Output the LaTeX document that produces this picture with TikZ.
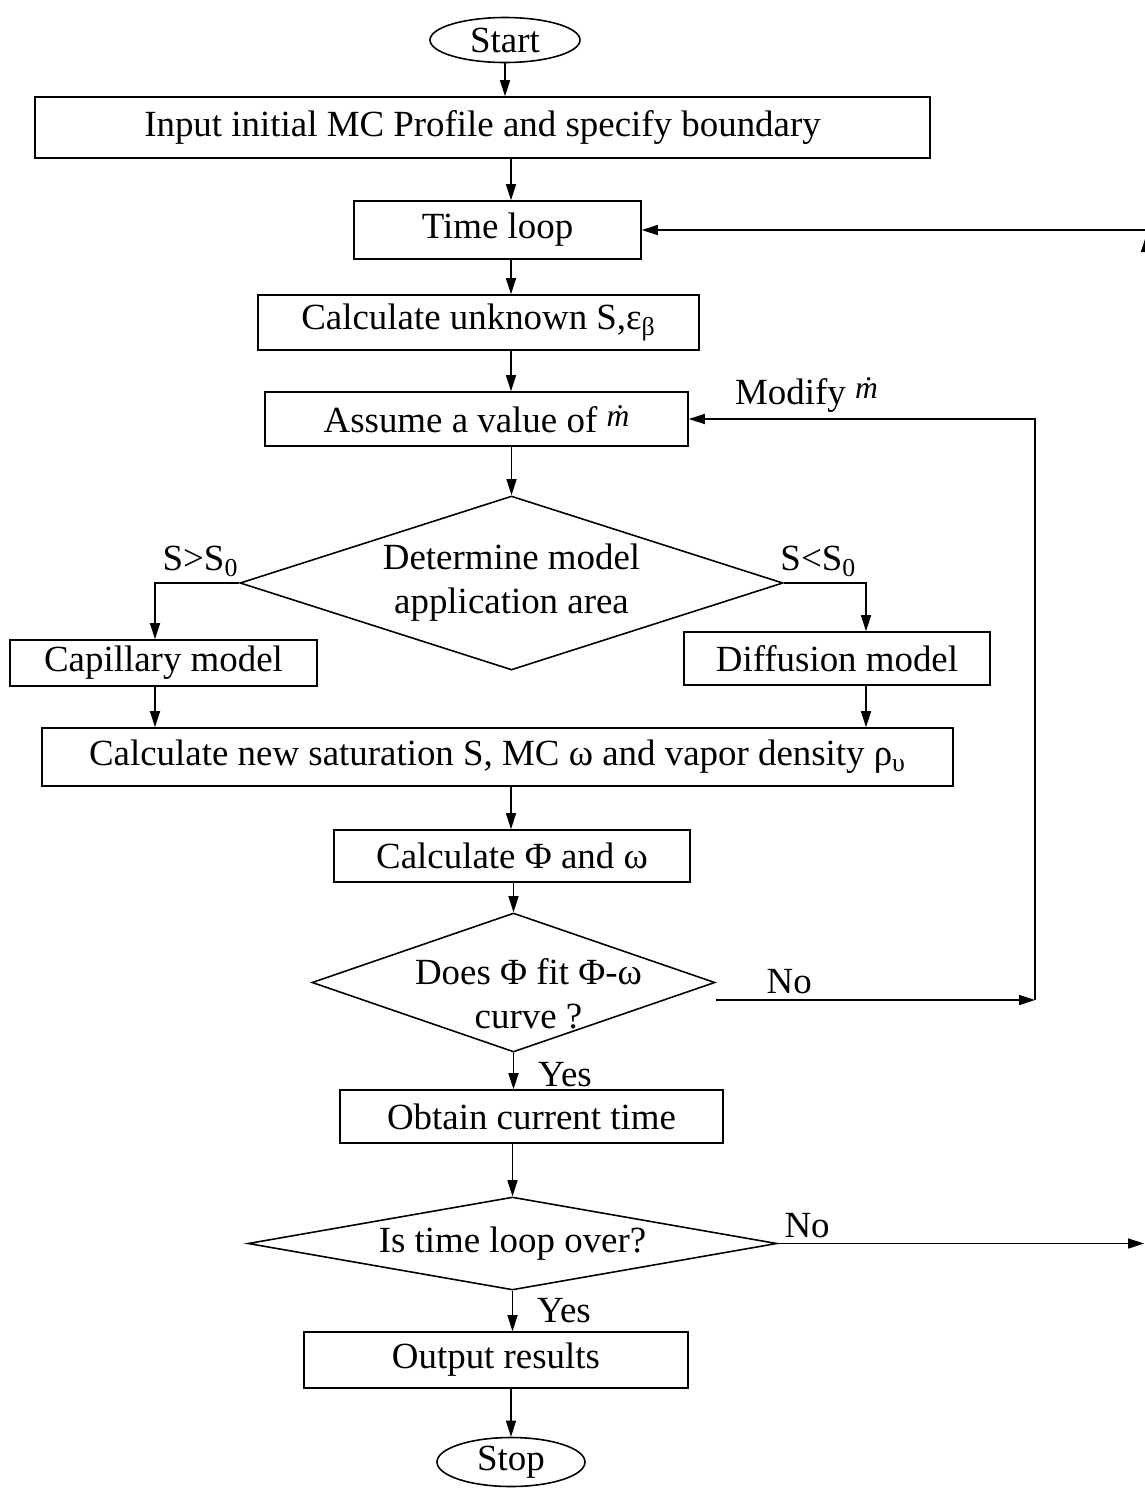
\documentclass[tikz,border=0pt]{standalone}
\usepackage{fontspec}
\setmainfont{Liberation Serif}
\usetikzlibrary{arrows.meta,positioning,shapes.geometric}
\newcommand{\mdot}{\raisebox{1.2mm}{\fontsize{18}{20}\selectfont\itshape ṁ}}

\begin{document}
\begin{tikzpicture}[
  every node/.style={font=\fontsize{21}{25}\selectfont,align=center},
  terminal/.style={draw,ellipse,line width=0.9pt,inner sep=0pt,minimum width=30mm,minimum height=9mm},
  proc/.style={draw,rectangle,line width=0.9pt,inner sep=0pt},
  decision/.style={draw,diamond,line width=0.9pt,inner sep=0pt},
  lbl/.style={inner sep=3pt},
  arr/.style={-{Triangle[length=3.2mm,width=2mm]},line width=0.9pt}
]
\useasboundingbox (0,0) rectangle (22.88,-29.78);
\node[terminal] (start) at (10.1,-0.8) {Start};
\node[proc,minimum width=179mm,minimum height=12.2mm] (input) at (9.65,-2.55) {Input initial MC Profile and specify boundary};
\node[proc,minimum width=57.4mm,minimum height=11.6mm] (loop) at (9.95,-4.6) {Time loop};
\node[proc,minimum width=88.2mm,minimum height=11mm] (unknown) at (9.57,-6.45) {Calculate unknown S,ε\textsubscript{β}};
\node[proc,minimum width=84.6mm,minimum height=10.8mm] (assume) at (9.53,-8.38) {Assume a value of \mdot};
\node[decision,shape aspect=3.1,minimum width=108.6mm,minimum height=34.8mm] (area) at (10.23,-11.66) {Determine model\\application area};
\node[proc,minimum width=61.4mm,minimum height=9.2mm] (capillary) at (3.27,-13.26) {Capillary model};
\node[proc,minimum width=61.2mm,minimum height=10.6mm] (diffusion) at (16.74,-13.17) {Diffusion model};
\node[proc,minimum width=182.2mm,minimum height=11.6mm] (newsat) at (9.95,-15.14) {Calculate new saturation S, MC ω and vapor density ρ\textsubscript{υ}};
\node[proc,minimum width=71.2mm,minimum height=10.4mm] (phi) at (10.24,-17.12) {Calculate Φ and ω};
\node[decision,minimum width=80.6mm,minimum height=27.8mm,
  label={[xshift=3mm,yshift=-2.2mm]center:Does Φ fit Φ-ω\\curve ?}] (fit) at (10.27,-19.65) {};
\node[proc,minimum width=76.6mm,minimum height=10.6mm] (obtain) at (10.63,-22.33) {Obtain current time};
\node[decision,shape aspect=5.7,minimum width=105.8mm,minimum height=18.6mm] (over) at (10.25,-24.87) {Is time loop over?};
\node[proc,minimum width=76.8mm,minimum height=11.2mm] (output) at (9.92,-27.2) {Output results};
\node[terminal,minimum width=29.6mm,minimum height=9.8mm] (stop) at (10.22,-29.24) {Stop};

\coordinate (spine) at (10.22,0);
\coordinate (nocorner) at (20.7,-20.0);
\coordinate (overend) at (22.88,-24.87);
\coordinate (backtop) at (22.92,-4.72);

\draw[arr] (start) -- (start |- input.north);
\draw[arr] (spine |- input.south) -- (spine |- loop.north);
\draw[arr] (spine |- loop.south) -- (spine |- unknown.north);
\draw[arr] (spine |- unknown.south) -- (spine |- assume.north);
\draw[arr] (area.north |- assume.south) -- (area.north);
\draw[arr] (area.west) -| node[pos=0.23,above]{S>S\textsubscript{0}} ([xshift=-1.7mm]capillary.north);
\draw[arr] (area.east) -| node[pos=0.21,above]{S<S\textsubscript{0}} ([xshift=5.8mm]diffusion.north);
\draw[arr] ([xshift=-1.7mm]capillary.south) -- ([xshift=-1.7mm]capillary.south |- newsat.north);
\draw[arr] ([xshift=5.8mm]diffusion.south) -- ([xshift=5.8mm]diffusion.south |- newsat.north);
\draw[arr] (spine |- newsat.south) -- (spine |- phi.north);
\draw[arr] (fit.north |- phi.south) -- (fit.north);
\draw[arr] (fit.east |- nocorner) -- node[pos=0.23,above,lbl]{No} (nocorner);
\draw[arr] (nocorner) |- node[pos=0.83,above,lbl]{Modify \mdot} (assume.east);
\draw[arr] (fit.south) -- node[pos=0.6,right=3.6mm]{Yes} (fit.south |- obtain.north);
\draw[arr] (over.north |- obtain.south) -- (over.north);
\draw[arr] (over.east) -- node[pos=0.08,above,lbl]{No} (overend);
\draw[arr] (overend -| backtop) -- (backtop);
\draw[arr] (backtop |- loop.east) -- (loop.east);
\draw[arr] (over.south) -- node[pos=0.5,right=3.6mm]{Yes} (over.south |- output.north);
\draw[arr] (spine |- output.south) -- (stop);
\end{tikzpicture}
\end{document}
